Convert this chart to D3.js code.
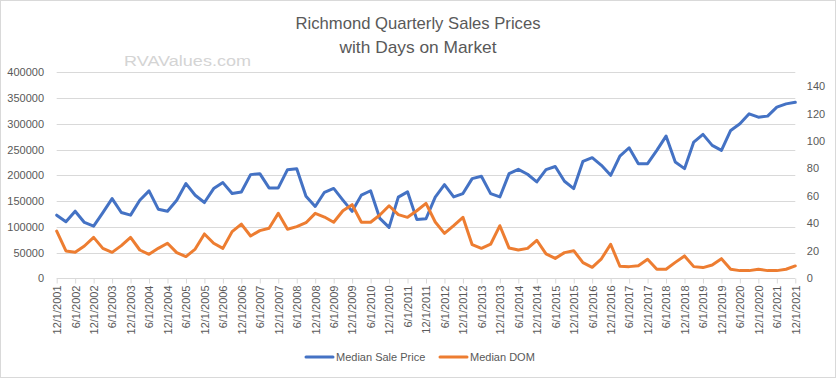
<!DOCTYPE html>
<html>
<head>
<meta charset="utf-8">
<script src="https://cdn.jsdelivr.net/npm/d3@7"></script>
<style>
  html, body { margin: 0; padding: 0; background: #fff; }
  svg { display: block; }
</style>
</head>
<body>
<svg id="chart" width="836" height="378"></svg>
<script>
// ---------- DATA ----------
const quarters = (function () {
  const out = [];
  const months = [12, 3, 6, 9];
  let y = 2001, k = 0;
  for (let i = 0; i < 81; i++) {
    const m = months[k];
    out.push(m + "/1/" + y);
    k = (k + 1) % 4;
    if (k === 1) y++;
  }
  return out;
})();

const medianSalePrice = [
  122600,109700,130300,108400,101300,127700,154800,127700,122600,151600,
  169700,134200,130300,151600,183900,161300,147100,174200,185800,164500,
  167700,201300,203200,175500,175500,211000,212900,159400,139500,167000,
  174500,151800,130000,161500,170000,116300,98800,157600,167900,114400,
  115600,157600,181900,158000,164500,193500,198100,164500,158000,203200,
  211600,202000,187100,211000,217000,188500,174200,227100,234200,219400,
  200000,237400,253500,222600,222600,248400,276100,225800,212900,264500,
  279400,258100,248400,287100,300000,319400,312900,314900,332300,338700,
  341900
];

const medianDOM = [
  34.4,19.9,18.9,23.5,29.8,21.8,18.9,23.8,29.8,20.6,
  17.5,21.8,25.5,18.7,15.8,21.3,32.3,25.5,21.8,34.0,
  39.5,30.8,34.7,36.4,47.3,35.7,37.6,40.5,47.3,44.6,
  40.8,49.2,53.6,40.8,40.8,46.1,52.8,46.4,44.4,49.2,
  54.6,41.0,32.7,38.4,44.4,24.5,21.8,24.8,38.3,22.0,
  20.6,21.8,27.7,17.8,14.5,18.7,20.1,11.4,8.0,14.2,
  24.8,8.8,8.5,9.2,13.8,6.6,6.6,11.6,16.3,8.5,
  7.8,9.7,14.3,6.6,5.6,5.6,6.6,5.6,5.6,6.6,
  9.0
];

const leftTicks = [0,50000,100000,150000,200000,250000,300000,350000,400000];
const rightTicks = [0,20,40,60,80,100,120,140];
const seriesNames = ["Median Sale Price", "Median DOM"];
const seriesColors = ["#4472C4", "#ED7D31"];
const titleLines = ["Richmond Quarterly Sales Prices", "with Days on Market"];
const watermark = "RVAValues.com";

// ---------- LAYOUT ----------
const svg = d3.select("#chart");
const W = 836, H = 378;
const plot = { left: 56.7, right: 795.3, top: 72.3, bottom: 278.3 };
const font = "'Liberation Sans', Arial, sans-serif";
const textColor = "#595959";
const gridColor = "#d9d9d9";

svg.append("rect").attr("x", 0.5).attr("y", 0.5).attr("width", W - 1).attr("height", H - 1)
  .attr("fill", "#fff").attr("stroke", gridColor).attr("stroke-width", 1);

const x = d3.scalePoint().domain(quarters).range([plot.left, plot.right]);
const yL = d3.scaleLinear().domain([0, 400000]).range([plot.bottom, plot.top]);
const yR = d3.scaleLinear().domain([0, 150]).range([plot.bottom, plot.top]);

// gridlines
svg.append("g").selectAll("line").data(leftTicks.slice(1)).join("line")
  .attr("x1", plot.left).attr("x2", plot.right)
  .attr("y1", d => Math.round(yL(d)) + 0.5).attr("y2", d => Math.round(yL(d)) + 0.5)
  .attr("stroke", gridColor).attr("stroke-width", 1);

// left axis labels
const gL = svg.append("g").attr("transform", `translate(${plot.left},0)`)
  .call(d3.axisLeft(yL).tickValues(leftTicks).tickFormat(d3.format("d")).tickSize(0).tickPadding(12.7));
gL.select(".domain").remove();
gL.selectAll("text").attr("font-family", font).attr("font-size", 11).attr("fill", textColor);

// right axis labels
const gR = svg.append("g").attr("transform", `translate(${plot.right},0)`)
  .call(d3.axisRight(yR).tickValues(rightTicks).tickFormat(d3.format("d")).tickSize(0).tickPadding(11.5));
gR.select(".domain").remove();
gR.selectAll("text").attr("font-family", font).attr("font-size", 11).attr("fill", textColor);

// bottom axis
const labelled = quarters.filter((d, i) => i % 2 === 0);
const gB = svg.append("g").attr("transform", `translate(0,${Math.round(plot.bottom) + 0.5})`)
  .call(d3.axisBottom(x).tickValues(labelled).tickSize(5).tickSizeOuter(0).tickPadding(6));
gB.select(".domain").attr("stroke", gridColor).attr("d", `M${plot.left},0H${plot.right}`);
gB.selectAll(".tick line").attr("stroke", gridColor);
gB.selectAll("text")
  .attr("font-family", font).attr("font-size", 11).attr("fill", textColor)
  .attr("transform", "rotate(-90)")
  .attr("text-anchor", "end")
  .attr("x", -7).attr("y", 0).attr("dy", "0.35em")
  .attr("dx", 0);

// lines
const linePrice = d3.line().x((d, i) => x(quarters[i])).y(d => yL(d));
const lineDOM = d3.line().x((d, i) => x(quarters[i])).y(d => yR(d));
svg.append("path").datum(medianSalePrice).attr("d", linePrice)
  .attr("fill", "none").attr("stroke", seriesColors[0]).attr("stroke-width", 3)
  .attr("stroke-linejoin", "round").attr("stroke-linecap", "round");
svg.append("path").datum(medianDOM).attr("d", lineDOM)
  .attr("fill", "none").attr("stroke", seriesColors[1]).attr("stroke-width", 3)
  .attr("stroke-linejoin", "round").attr("stroke-linecap", "round");

// title
const titleFont = "'Liberation Sans', Arial, sans-serif";
svg.append("text").attr("x", 418).attr("y", 29).attr("text-anchor", "middle")
  .attr("font-family", titleFont).attr("font-size", 17).attr("fill", textColor)
  .attr("textLength", 245).attr("lengthAdjust", "spacingAndGlyphs")
  .text(titleLines[0]);
svg.append("text").attr("x", 418).attr("y", 52.5).attr("text-anchor", "middle")
  .attr("font-family", titleFont).attr("font-size", 17).attr("fill", textColor)
  .attr("textLength", 157).attr("lengthAdjust", "spacingAndGlyphs")
  .text(titleLines[1]);

// watermark
svg.append("text").attr("x", 124).attr("y", 65.5).attr("font-family", font)
  .attr("font-size", 15.5).attr("fill", "#d4d4d4")
  .attr("textLength", 127).attr("lengthAdjust", "spacingAndGlyphs")
  .text(watermark);

// legend
const legendItems = [
  { name: seriesNames[0], color: seriesColors[0], x: 306 },
  { name: seriesNames[1], color: seriesColors[1], x: 440 }
];
const lg = svg.append("g");
legendItems.forEach(it => {
  lg.append("line").attr("x1", it.x).attr("x2", it.x + 27).attr("y1", 357).attr("y2", 357)
    .attr("stroke", it.color).attr("stroke-width", 3).attr("stroke-linecap", "round");
  lg.append("text").attr("x", it.x + 30).attr("y", 357).attr("dy", "0.35em")
    .attr("font-family", font).attr("font-size", 11).attr("fill", textColor).text(it.name);
});
</script>
</body>
</html>
